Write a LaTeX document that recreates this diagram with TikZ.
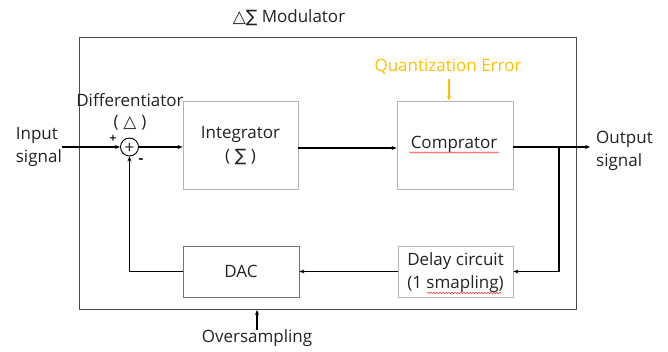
\documentclass[tikz,border=0pt]{standalone}
\usepackage{fontspec}
\setmainfont{Open Sans}
\newfontfamily\symf{DejaVu Sans}
\usetikzlibrary{arrows.meta,decorations.pathmorphing}
\definecolor{qorange}{HTML}{FFC000}
\definecolor{txt}{HTML}{222222}
\begin{document}
\begin{tikzpicture}[x=1pt,y=-1pt,
  every node/.style={font=\fontsize{17}{23}\selectfont, inner sep=0pt, text=txt},
  blk/.style={draw=black!30, line width=0.8pt, rectangle, inner sep=0pt},
  sig/.style={line width=1.1pt, -{Stealth[length=5pt,width=4pt]}},
  wire/.style={line width=1.1pt},
  wavy/.style={red!80, line width=0.5pt, decorate, decoration={snake, amplitude=0.7pt, segment length=3pt}}]
\useasboundingbox (0,0) rectangle (668,352);
% outer frame
\node[draw=black!70, line width=0.9pt, minimum width=497pt, minimum height=272pt, anchor=north west] (frame) at (79,37) {};
\node (title) at (289,18) {{\symf △∑} Modulator};
% blocks
\node[blk, minimum width=115pt, minimum height=88pt] (integ) at (240.5,145) {};
\node[align=center] (integt) at (240.5,146) {Integrator\\({\symf \;∑\;})};
\node[blk, minimum width=116pt, minimum height=88pt] (comp) at (455,145) {};
\node (compt) at (454,144) {Comprator};
\node[blk, draw=black!55, minimum width=116pt, minimum height=51pt] (dac) at (241,271.5) {DAC};
\node[blk, minimum width=115pt, minimum height=51pt] (delay) at (455.5,271.5) {};
\node[align=center] (delayt) at (455.5,273) {Delay circuit\\(1 smapling)};
% spell-check underline
\draw[wavy] (409,152.5) -- (499,152.5);
\draw[wavy] (427,293) -- (501,293);
% summing junction
\node[draw, circle, line width=0.9pt, minimum size=18pt] (sum) at (129.5,147) {};
\node[font=\fontsize{17}{17}\selectfont] (plus) at (129.5,148) {+};
\node[align=center, font=\fontsize{17}{21}\selectfont] (diff) at (130,112) {Differentiator\\({\symf\;△\;})};
\node[font=\bfseries\fontsize{12}{12}\selectfont] (pp) at (113,139) {+};
\node[font=\bfseries\fontsize{15}{15}\selectfont] (mm) at (141,161) {-};
% io text
\node[align=left, anchor=east] (inp) at (62,147) {Input\\signal};
\node[align=left, anchor=west] (outp) at (596,151) {Output\\signal};
\node (over) at (257,338) {Oversampling};
\node[text=qorange] (qe) at (448,67) {Quantization Error};
% coordinates
\coordinate (inend) at (62,147);
\coordinate (outend) at (590,147);
\coordinate (branch) at (559,147);
\coordinate (fbcorner) at (559,271.5);
\coordinate (dacleft) at (129.5,271.5);
\coordinate (ovstart) at (257,330);
\coordinate (qstart) at (449,79);
% connectors
\draw[sig] (inend) -- (sum.west);
\draw[sig] (sum.east) -- (sum.east -| integ.west);
\draw[sig] (integ.east |- 0,148) -- (comp.west |- 0,148);
\draw[sig] (comp.east |- 0,147) -- (outend);
\draw[wire] (branch) -- (fbcorner);
\draw[sig] (fbcorner) -- (delay.east);
\draw[sig] (delay.west) -- (dac.east);
\draw[wire] (dac.west) -- (dacleft);
\draw[sig] (dacleft) -- (sum.south);
\draw[sig] (ovstart) -- (frame.south -| ovstart);
\draw[sig, draw=qorange, -{Stealth[length=5pt,width=4pt,fill=qorange]}] (qstart) -- (comp.north -| qstart);
\end{tikzpicture}
\end{document}
